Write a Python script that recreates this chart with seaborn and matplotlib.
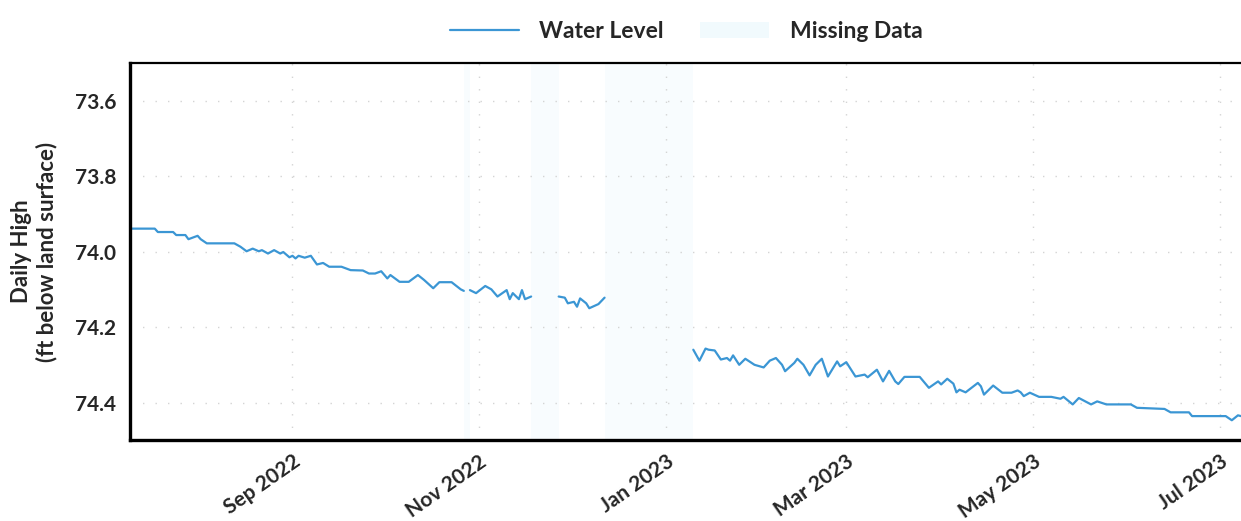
import numpy as np
import pandas as pd
import matplotlib
matplotlib.use("Agg")
import matplotlib.pyplot as plt
import matplotlib.dates as mdates
from matplotlib.patches import Patch
from matplotlib.lines import Line2D
import seaborn as sns

# Daily high water level readings (ft below land surface).
# Each segment is a run of continuous data; gaps between segments are missing data.
seg1_dates = ["2022-07-10", "2022-07-18", "2022-07-19", "2022-07-24", "2022-07-25", "2022-07-28",
              "2022-07-29", "2022-08-01", "2022-08-02", "2022-08-04", "2022-08-13", "2022-08-15",
              "2022-08-17", "2022-08-19", "2022-08-21", "2022-08-22", "2022-08-24", "2022-08-26",
              "2022-08-28", "2022-08-29", "2022-08-31", "2022-09-01", "2022-09-02", "2022-09-03",
              "2022-09-05", "2022-09-07", "2022-09-09", "2022-09-11", "2022-09-13", "2022-09-17",
              "2022-09-20", "2022-09-24", "2022-09-26", "2022-09-28", "2022-09-30", "2022-10-02",
              "2022-10-03", "2022-10-06", "2022-10-09", "2022-10-12", "2022-10-14", "2022-10-17",
              "2022-10-19", "2022-10-23", "2022-10-26", "2022-10-27"]
seg1_level = [73.939, 73.939, 73.948, 73.948, 73.956, 73.956,
              73.967, 73.958, 73.967, 73.978, 73.978, 73.987,
              73.999, 73.992, 73.999, 73.996, 74.005, 73.996,
              74.005, 74.001, 74.015, 74.011, 74.018, 74.011,
              74.016, 74.011, 74.034, 74.030, 74.040, 74.040,
              74.049, 74.050, 74.058, 74.058, 74.052, 74.071,
              74.062, 74.080, 74.080, 74.062, 74.075, 74.097,
              74.081, 74.081, 74.100, 74.104]

seg2_dates = ["2022-10-29", "2022-10-31", "2022-11-03", "2022-11-05", "2022-11-07", "2022-11-10",
              "2022-11-11", "2022-11-12", "2022-11-14", "2022-11-15", "2022-11-16", "2022-11-18"]
seg2_level = [74.102, 74.110, 74.091, 74.100, 74.119, 74.102,
              74.126, 74.110, 74.126, 74.102, 74.126, 74.119]

seg3_dates = ["2022-11-27", "2022-11-29", "2022-11-30", "2022-12-02", "2022-12-03", "2022-12-04",
              "2022-12-06", "2022-12-07", "2022-12-10", "2022-12-12"]
seg3_level = [74.119, 74.122, 74.137, 74.133, 74.146, 74.124,
              74.137, 74.150, 74.139, 74.122]

seg4_dates = ["2023-01-10", "2023-01-12", "2023-01-14", "2023-01-15", "2023-01-17", "2023-01-19",
              "2023-01-21", "2023-01-22", "2023-01-23", "2023-01-25", "2023-01-27", "2023-01-30",
              "2023-02-02", "2023-02-04", "2023-02-06", "2023-02-08", "2023-02-09", "2023-02-12",
              "2023-02-13", "2023-02-15", "2023-02-17", "2023-02-19", "2023-02-21", "2023-02-23",
              "2023-02-26", "2023-02-27", "2023-03-01", "2023-03-04", "2023-03-07", "2023-03-08",
              "2023-03-11", "2023-03-13", "2023-03-15", "2023-03-17", "2023-03-18", "2023-03-20",
              "2023-03-25", "2023-03-28", "2023-03-31", "2023-04-01", "2023-04-03", "2023-04-05",
              "2023-04-06", "2023-04-07", "2023-04-09", "2023-04-13", "2023-04-14", "2023-04-15",
              "2023-04-18", "2023-04-21", "2023-04-24", "2023-04-26", "2023-04-27", "2023-04-28",
              "2023-04-30", "2023-05-03", "2023-05-07", "2023-05-10", "2023-05-11", "2023-05-14",
              "2023-05-16", "2023-05-20", "2023-05-22", "2023-05-25", "2023-06-02", "2023-06-04",
              "2023-06-13", "2023-06-15", "2023-06-21", "2023-06-22", "2023-07-03", "2023-07-05",
              "2023-07-07", "2023-07-08"]
seg4_level = [74.260, 74.289, 74.257, 74.260, 74.262, 74.286,
              74.282, 74.289, 74.275, 74.300, 74.284, 74.300,
              74.307, 74.289, 74.282, 74.300, 74.317, 74.295,
              74.284, 74.300, 74.328, 74.300, 74.284, 74.331,
              74.291, 74.304, 74.293, 74.331, 74.326, 74.333,
              74.313, 74.344, 74.316, 74.344, 74.351, 74.332,
              74.332, 74.361, 74.344, 74.352, 74.337, 74.350,
              74.373, 74.366, 74.373, 74.348, 74.357, 74.379,
              74.355, 74.374, 74.374, 74.368, 74.373, 74.383,
              74.374, 74.385, 74.385, 74.390, 74.385, 74.405,
              74.388, 74.405, 74.397, 74.405, 74.405, 74.414,
              74.417, 74.426, 74.426, 74.436, 74.436, 74.447,
              74.434, 74.436]

# Missing data periods
missing_start = ["2022-10-27", "2022-11-18", "2022-12-12"]
missing_end = ["2022-10-29", "2022-11-27", "2023-01-10"]

segments = [(seg1_dates, seg1_level), (seg2_dates, seg2_level),
            (seg3_dates, seg3_level), (seg4_dates, seg4_level)]
df = pd.concat([pd.DataFrame({"date": pd.to_datetime(d), "level": v, "segment": i})
                for i, (d, v) in enumerate(segments)], ignore_index=True)

line_color = "#3b96d4"
miss_color = "#f8fcfe"

sns.set_style("white")
plt.rcParams["font.family"] = ["Lato", "DejaVu Sans"]

fig = plt.figure(figsize=(12.41, 5.21), dpi=100)
ax = fig.add_axes([0.105, 0.155, 0.895, 0.724])

for s, e in zip(missing_start, missing_end):
    ax.axvspan(pd.Timestamp(s), pd.Timestamp(e), color=miss_color, lw=0, zorder=0)

sns.lineplot(data=df, x="date", y="level", units="segment", estimator=None,
             color=line_color, linewidth=1.6, ax=ax, legend=False)

ax.set_xlim(pd.Timestamp("2022-07-10"), pd.Timestamp("2023-07-08"))
ax.set_ylim(74.5, 73.5)
ax.set_yticks([73.6, 73.8, 74.0, 74.2, 74.4])
ax.yaxis.set_major_formatter(matplotlib.ticker.FormatStrFormatter("%.1f"))
ax.xaxis.set_major_locator(mdates.MonthLocator(bymonth=[1, 3, 5, 7, 9, 11]))
ax.xaxis.set_major_formatter(mdates.DateFormatter("%b %Y"))

ax.grid(True, color="#d4d4d4", linestyle=(0, (1, 8)), linewidth=1.0)
ax.set_xlabel("")
ax.set_ylabel("Daily High\n(ft below land surface)", fontsize=16, fontweight="bold", labelpad=13)
ax.tick_params(axis="y", labelsize=15, length=0, pad=10)
ax.tick_params(axis="x", labelsize=15, length=0, pad=8)
for lbl in ax.get_yticklabels():
    lbl.set_fontweight("bold")
for lbl in ax.get_xticklabels():
    lbl.set_fontweight("bold")
    lbl.set_rotation(35)
    lbl.set_ha("right")
    lbl.set_rotation_mode("anchor")

for side in ["left", "bottom"]:
    ax.spines[side].set_linewidth(2.4)
    ax.spines[side].set_color("black")
ax.spines["top"].set_linewidth(1.6)
ax.spines["top"].set_color("black")
ax.spines["right"].set_visible(False)

handles = [Line2D([0], [0], color=line_color, lw=1.6),
           Patch(facecolor="#f1fafd", edgecolor="none")]
fig.legend(handles, ["Water Level", "Missing Data"], loc="upper center",
           bbox_to_anchor=(0.553, 1.0), ncol=2, frameon=False,
           prop={"size": 16.5, "weight": "bold"}, handlelength=3.0,
           handletextpad=0.9, columnspacing=1.6)

fig.savefig("out.png", dpi=100)
